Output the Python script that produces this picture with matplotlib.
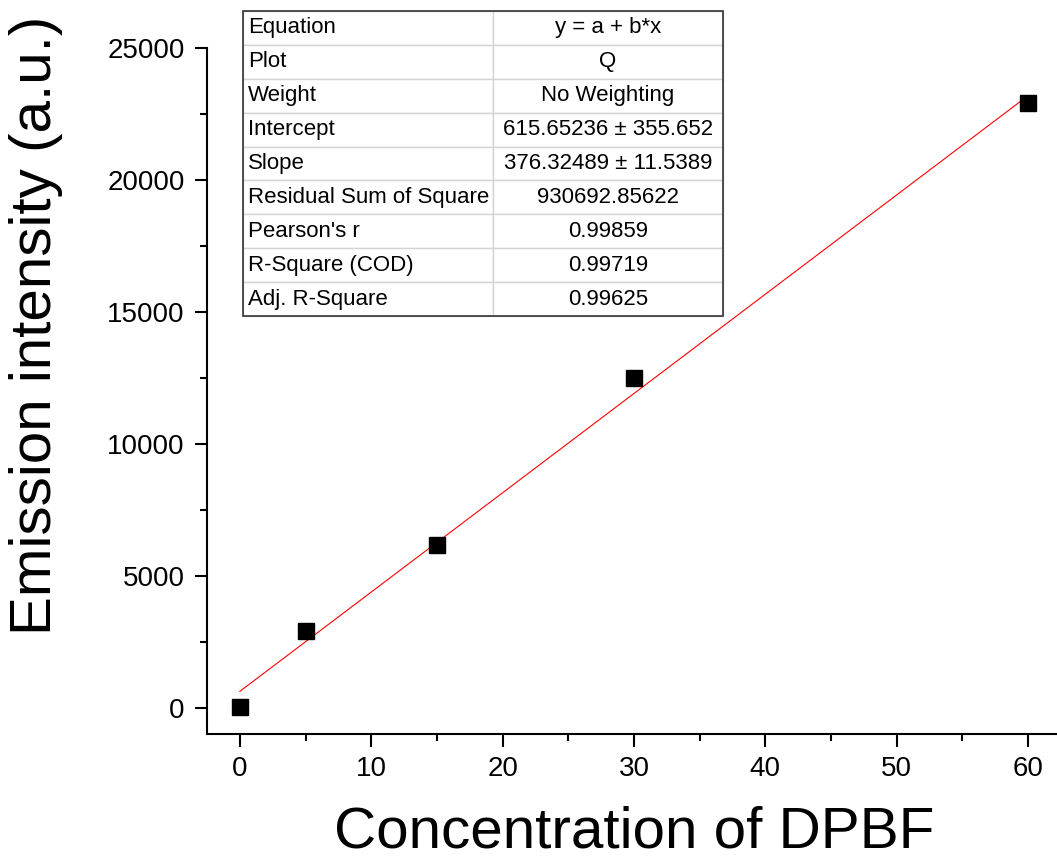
import numpy as np
import matplotlib
matplotlib.use("Agg")
import matplotlib.pyplot as plt
from matplotlib.patches import Rectangle
from matplotlib.ticker import MultipleLocator

plt.rcParams['font.family'] = ['Liberation Sans', 'DejaVu Sans']

# data
conc = [0, 5, 15, 30, 60]
intensity = [20, 2920, 6180, 12480, 22910]

# linear fit results shown in the table
intercept = 615.65236
slope = 376.32489

table_keys = ["Equation", "Plot", "Weight", "Intercept", "Slope",
              "Residual Sum of Square", "Pearson's r", "R-Square (COD)",
              "Adj. R-Square"]
table_vals = ["y = a + b*x", "Q", "No Weighting", "615.65236 \u00b1 355.652",
              "376.32489 \u00b1 11.5389", "930692.85622", "0.99859", "0.99719",
              "0.99625"]

W, H = 1057, 860
fig = plt.figure(figsize=(W / 100, H / 100), dpi=100)
ax = fig.add_axes([207 / W, 1 - 734 / H, 850 / W, 686 / H])

ax.plot(conc, intensity, 's', color='black', ms=11.5, zorder=3)
xfit = np.array([min(conc), max(conc)])
ax.plot(xfit, intercept + slope * xfit, '-', color='red', lw=0.8, zorder=2)

ax.set_xlim(-2.5, 62.2)
ax.set_ylim(-1000, 25000)
ax.xaxis.set_major_locator(MultipleLocator(10))
ax.xaxis.set_minor_locator(MultipleLocator(5))
ax.yaxis.set_major_locator(MultipleLocator(5000))
ax.yaxis.set_minor_locator(MultipleLocator(2500))

for s in ['top', 'right']:
    ax.spines[s].set_visible(False)
for s in ['left', 'bottom']:
    ax.spines[s].set_linewidth(1.5)
ax.spines['left'].set_bounds(-1000, 25000)

ax.tick_params(which='major', direction='out', length=9, width=1.5,
               labelsize=20, pad=7)
ax.tick_params(which='minor', direction='out', length=5, width=1.5)

fig.text(634 / W, 1 - 847 / H, "Concentration of DPBF", fontsize=42,
         ha='center', va='baseline')
fig.text(51 / W, 1 - 325 / H, "Emission intensity (a.u.)", fontsize=42,
         rotation=90, ha='center', va='baseline', rotation_mode='anchor')

# fit results table
tx0, tx1 = (243 - 207) / 850, (723 - 207) / 850
ty0, ty1 = (734 - 316) / 686, (734 - 11) / 686
cells = [[k, v] for k, v in zip(table_keys, table_vals)]
tab = ax.table(cellText=cells, cellLoc='center', colWidths=[250 / 480, 230 / 480],
               bbox=[tx0, ty0, tx1 - tx0, ty1 - ty0])
tab.auto_set_font_size(False)
tab.set_fontsize(16)
tab.set_clip_on(False)
for (r, c), cell in tab.get_celld().items():
    cell.set_edgecolor('#d4d4d4')
    cell.set_linewidth(1.0)
    cell.set_clip_on(False)
    if c == 0:
        cell.get_text().set_ha('left')
        cell.PAD = 0.02
    cell.get_text().set_va('center')
tab.set_zorder(4)
ax.add_patch(Rectangle((tx0, ty0), tx1 - tx0, ty1 - ty0, transform=ax.transAxes,
                       fill=False, edgecolor='#333333', lw=1.2, clip_on=False,
                       zorder=5))

fig.savefig("out.png", dpi=100)
